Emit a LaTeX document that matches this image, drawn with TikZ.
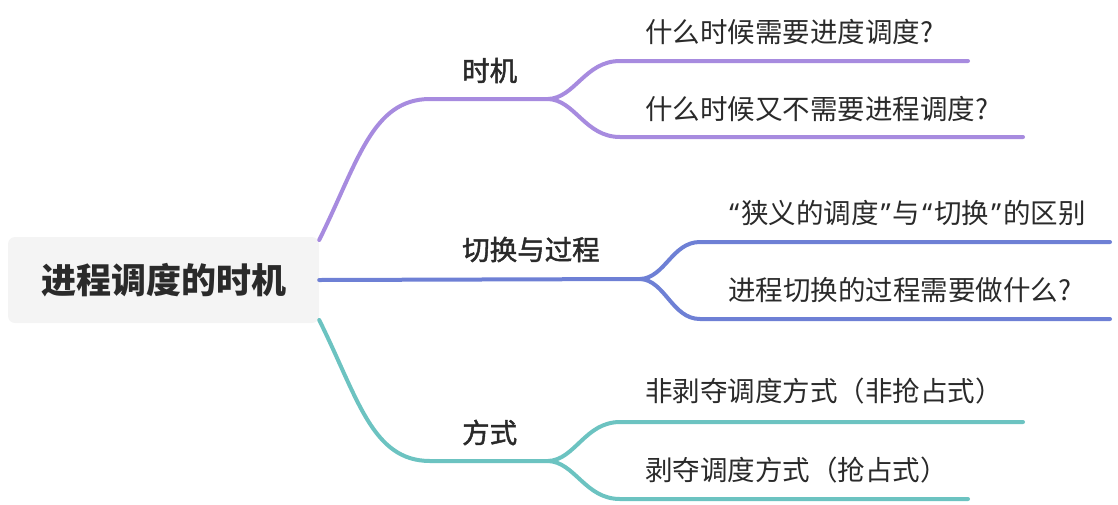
\documentclass[tikz,border=0pt]{standalone}
\usepackage{fontspec}
\setmainfont{Noto Sans CJK SC}
\newfontfamily\latf{Noto Sans}
\newfontfamily\medf{Noto Sans CJK SC}[FakeBold=1.6]
\definecolor{cpur}{HTML}{A78BDF}
\definecolor{cblu}{HTML}{6E80D5}
\definecolor{ctea}{HTML}{6CC3C1}
\definecolor{crootbg}{HTML}{F4F4F4}
\definecolor{ctxt}{HTML}{2A2A2A}
\newcommand{\myLq}{\makebox[14pt][c]{\latf “}}
\newcommand{\myRq}{\makebox[14pt][c]{\latf ”}}
\begin{document}
\begin{tikzpicture}[x=1pt,y=-1pt,
  rootbox/.style={fill=crootbg, rounded corners=7pt, minimum width=311pt, minimum height=86pt,
    inner sep=0pt, text height=30pt, text depth=4pt, text=ctxt,
    font=\fontsize{35}{40}\selectfont\bfseries},
  lab/.style={anchor=base west, inner sep=0pt, text=ctxt, font=\medf\fontsize{27.5}{31}\selectfont},
  leaf/.style={anchor=base west, inner sep=0pt, text=ctxt, font=\fontsize{27.5}{31}\selectfont},
  branch/.style={line width=4pt, line cap=round},
  pur/.style={branch, draw=cpur},
  blu/.style={branch, draw=cblu},
  tea/.style={branch, draw=ctea}]
\useasboundingbox (0,0) rectangle (1118,504);

\node[rootbox] (root) at (163.5,280) {进程调度的时机};

\node[lab] (l1) at (462,81) {时机};
\node[lab] (l2) at (462,260) {切换与过程};
\node[lab] (l3) at (462,443) {方式};

\node[leaf] (p1) at (645,42) {什么时候需要进度调度?};
\node[leaf] (p2) at (645,119) {什么时候又不需要进程调度?};
\node[leaf] (b1) at (727,223) {\myLq 狭义的调度\myRq 与\myLq 切换\myRq 的区别};
\node[leaf] (b2) at (728,300) {进程切换的过程需要做什么?};
\node[leaf] (t1) at (645,401) {非剥夺调度方式（非抢占式）};
\node[leaf] (t2) at (645,480) {剥夺调度方式（抢占式）};

\coordinate (j1) at (548,99);
\coordinate (j2) at (640,279);
\coordinate (j3) at (548,461);
\coordinate (p1e) at (968,61);
\coordinate (p2e) at (1023,137);
\coordinate (b1e) at (1110,242);
\coordinate (b2e) at (1110,319);
\coordinate (t1e) at (1023,422);
\coordinate (t2e) at (968,499);

% purple
\draw[pur] ([yshift=40pt]root.east) .. controls (358,162) and (372,99) .. (430,99) -- (j1);
\draw[pur] (j1) .. controls (575,98) and (585,61) .. (620,61) -- (p1e);
\draw[pur] (j1) .. controls (575,100) and (585,137) .. (620,137) -- (p2e);
% blue
\draw[blu] (root.east) -- (j2);
\draw[blu] (j2) .. controls (665,278) and (672,242) .. (700,242) -- (b1e);
\draw[blu] (j2) .. controls (665,280) and (672,319) .. (700,319) -- (b2e);
% teal
\draw[tea] ([yshift=-40pt]root.east) .. controls (358,398) and (372,461) .. (430,461) -- (j3);
\draw[tea] (j3) .. controls (575,460) and (585,422) .. (620,422) -- (t1e);
\draw[tea] (j3) .. controls (575,462) and (585,499) .. (620,499) -- (t2e);
\end{tikzpicture}
\end{document}
